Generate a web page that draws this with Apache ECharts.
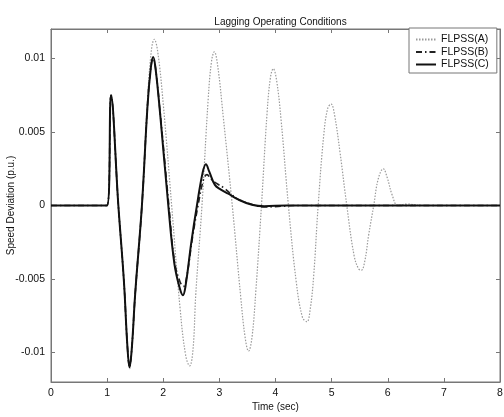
<!DOCTYPE html>
<html>
<head>
<meta charset="utf-8">
<script src="https://cdn.jsdelivr.net/npm/echarts@6/dist/echarts.min.js"></script>
<style>html,body{margin:0;padding:0;background:#fff;}#c{width:504px;height:417px;}</style>
</head>
<body>
<div id="c"></div>
<script>
var seriesNames = ['FLPSS(A)', 'FLPSS(B)', 'FLPSS(C)'];
var xTicks = [0, 1, 2, 3, 4, 5, 6, 7, 8];
var yTicks = [-0.01, -0.005, 0, 0.005, 0.01];

var timeA = [0, 0.998, 1.07, 1.2, 1.3, 1.36, 1.4, 1.44, 1.5, 1.62, 1.72, 1.79, 1.84, 1.9, 2.0, 2.15, 2.3, 2.4, 2.47, 2.53, 2.58, 2.69, 2.8, 2.86, 2.91, 2.97, 3.07, 3.23, 3.38, 3.46, 3.52, 3.58, 3.65, 3.75, 3.85, 3.91, 3.96, 4.02, 4.1, 4.23, 4.37, 4.48, 4.56, 4.62, 4.68, 4.76, 4.86, 4.93, 4.99, 5.05, 5.15, 5.27, 5.4, 5.48, 5.53, 5.59, 5.66, 5.75, 5.83, 5.92, 5.99, 6.08, 6.18, 6.35, 6.6, 8];
var valueA = [0, 0, 0.0075, 0, -0.0052, -0.0095, -0.0111, -0.0097, -0.0062, 0, 0.0072, 0.0106, 0.0113, 0.0105, 0.0069, 0, -0.0070, -0.0102, -0.0109, -0.0098, -0.0060, 0, 0.0072, 0.0098, 0.01045, 0.0095, 0.0060, 0, -0.0062, -0.0090, -0.0099, -0.0090, -0.0058, 0, 0.0063, 0.0087, 0.0093, 0.0085, 0.0058, 0, -0.0052, -0.0076, -0.0079, -0.0070, -0.0048, 0, 0.0048, 0.0066, 0.0069, 0.0062, 0.0036, 0, -0.0034, -0.0043, -0.0044, -0.0038, -0.0020, 0, 0.0018, 0.0025, 0.0019, 0.0007, 0, 0.0001, 0, 0];

var timeB = [0, 0.998, 1.07, 1.2, 1.3, 1.36, 1.4, 1.44, 1.5, 1.62, 1.72, 1.78, 1.82, 1.86, 1.95, 2.1, 2.2, 2.3, 2.36, 2.42, 2.52, 2.62, 2.72, 2.78, 2.85, 2.95, 3.08, 3.2, 3.35, 3.6, 3.8, 4.1, 4.4, 8];
var valueB = [0, 0, 0.0075, 0, -0.0052, -0.0095, -0.0110, -0.0097, -0.0060, 0, 0.0068, 0.0094, 0.0100, 0.0094, 0.0061, 0, -0.0038, -0.0052, -0.0055, -0.0048, -0.0022, 0, 0.0018, 0.0021, 0.0018, 0.0015, 0.0012, 0.0008, 0.0004, 0.00005, -0.0001, -0.00005, 0, 0];

var timeC = [0, 0.998, 1.07, 1.2, 1.3, 1.36, 1.4, 1.44, 1.5, 1.62, 1.72, 1.78, 1.82, 1.86, 1.95, 2.09, 2.2, 2.3, 2.35, 2.4, 2.5, 2.6, 2.7, 2.76, 2.82, 2.92, 3.02, 3.16, 3.34, 3.58, 3.8, 4.2, 8];
var valueC = [0, 0, 0.0075, 0, -0.0052, -0.0095, -0.0110, -0.0097, -0.0060, 0, 0.0068, 0.0094, 0.0101, 0.0094, 0.0060, 0, -0.0040, -0.0057, -0.0061, -0.0054, -0.0025, 0, 0.0022, 0.0028, 0.0023, 0.0014, 0.0011, 0.0008, 0.0004, 0.00005, -0.00005, 0, 0];

function zip(t, v) { return t.map(function (x, i) { return [x, v[i]]; }); }

var FONT = '"Liberation Sans", Arial, sans-serif';
var AX = '#777';
var chart = echarts.init(document.getElementById('c'), null, { renderer: 'canvas' });

function fmtY(v) { return String(+(+v).toFixed(4)); }

chart.setOption({
  animation: false,
  backgroundColor: '#fff',
  textStyle: { fontFamily: FONT },
  title: {
    text: 'Lagging Operating Conditions',
    left: 275.5, top: 12, textAlign: 'center',
    textStyle: { fontFamily: FONT, fontSize: 10, fontWeight: 'normal', color: '#111' }
  },
  grid: { left: 51, right: 4, top: 29, bottom: 35, containLabel: false, outerBoundsMode: 'none', show: true, borderColor: AX, borderWidth: 1, backgroundColor: 'transparent' },
  legend: {
    data: seriesNames,
    orient: 'vertical', left: 409, top: 28, align: 'left',
    itemWidth: 20, itemHeight: 10, itemGap: 1.5,
    padding: [6, 8, 3, 6],
    borderColor: AX, borderWidth: 1, backgroundColor: '#fff',
    itemStyle: { opacity: 0 },
    textStyle: { fontFamily: FONT, fontSize: 10.5, color: '#111' }
  },
  xAxis: [{
    type: 'value', min: 0, max: 8, interval: 1,
    name: 'Time (sec)', nameLocation: 'middle', nameGap: 20, nameMoveOverlap: false,
    nameTextStyle: { fontFamily: FONT, fontSize: 10, color: '#111' },
    axisLine: { onZero: false, lineStyle: { color: AX } },
    axisTick: { inside: true, length: 4, lineStyle: { color: AX } },
    axisLabel: { margin: 6, fontFamily: FONT, fontSize: 10.5, color: '#111', customValues: xTicks },
    splitLine: { show: false }
  }, {
    type: 'value', min: 0, max: 8, interval: 1, position: 'top',
    axisLine: { onZero: false, lineStyle: { color: AX } },
    axisTick: { inside: true, length: 4, lineStyle: { color: AX } },
    axisLabel: { show: false },
    splitLine: { show: false }
  }],
  yAxis: [{
    type: 'value', min: -0.012, max: 0.012,
    name: 'Speed Deviation (p.u.)', nameLocation: 'middle', nameGap: 35, nameMoveOverlap: false,
    nameTextStyle: { fontFamily: FONT, fontSize: 10, color: '#111' },
    axisLine: { onZero: false, lineStyle: { color: AX } },
    axisTick: { inside: true, length: 4, lineStyle: { color: AX }, customValues: yTicks },
    axisLabel: { margin: 6, fontFamily: FONT, fontSize: 10.5, color: '#111', customValues: yTicks, formatter: fmtY },
    splitLine: { show: false }
  }, {
    type: 'value', min: -0.012, max: 0.012, position: 'right',
    axisLine: { onZero: false, lineStyle: { color: AX } },
    axisTick: { inside: true, length: 4, lineStyle: { color: AX }, customValues: yTicks },
    axisLabel: { show: false, customValues: yTicks },
    splitLine: { show: false }
  }],
  series: [{
    name: seriesNames[0], type: 'line', data: zip(timeA, valueA),
    symbol: 'none', smooth: 0.4,
    lineStyle: { color: '#9a9a9a', width: 1.2, type: [1.5, 1.5] },
    itemStyle: { color: '#9a9a9a' }, z: 2
  }, {
    name: seriesNames[1], type: 'line', data: zip(timeB, valueB),
    symbol: 'none', smooth: 0.4,
    lineStyle: { color: '#222', width: 1.6, type: [6, 3, 1.5, 3] },
    itemStyle: { color: '#222' }, z: 3
  }, {
    name: seriesNames[2], type: 'line', data: zip(timeC, valueC),
    symbol: 'none', smooth: 0.4,
    lineStyle: { color: '#111', width: 2, type: 'solid' },
    itemStyle: { color: '#111' }, z: 4
  }]
});
</script>
</body>
</html>
